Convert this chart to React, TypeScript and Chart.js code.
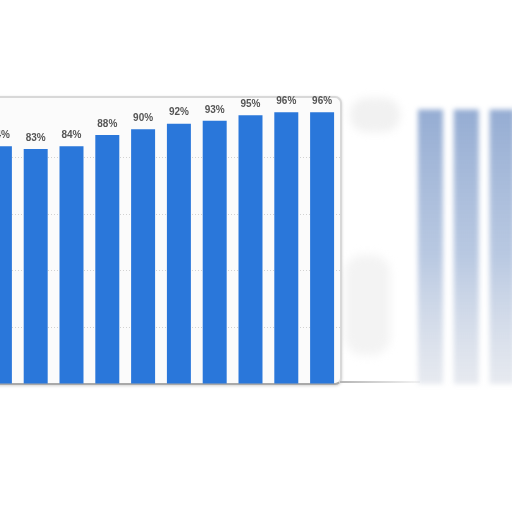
import React, { useEffect, useRef } from 'react';
import { Chart, registerables } from 'chart.js';

Chart.register(...registerables);

// main framed bars (first one is cut by the left edge)
const mainLabels = ['c1', 'c2', 'c3', 'c4', 'c5', 'c6', 'c7', 'c8', 'c9', 'c10'];
const mainValues = [84, 83, 84, 88, 90, 92, 93, 95, 96, 96];

// washed-out bars on the right, the first two slots are empty
const ghostLabels = ['c11', 'c12', 'c13', 'c14', 'c15'];
const ghostValues = [null, null, 97, 97, 97];

const yTicks = [0, 20, 40, 60, 80, 100];

const BAR_BLUE = '#2a77da';

const valueLabels = {
  id: 'valueLabels',
  afterDatasetsDraw(chart: Chart) {
    const { ctx } = chart;
    const meta = chart.getDatasetMeta(0);
    ctx.save();
    ctx.font = 'bold 10px "Liberation Sans", Arial, sans-serif';
    ctx.fillStyle = '#555555';
    ctx.textAlign = 'center';
    ctx.textBaseline = 'bottom';
    meta.data.forEach((bar: any, i: number) => {
      const v = mainValues[i];
      ctx.fillText(v + '%', bar.x, bar.y - 6);
    });
    ctx.restore();
  }
};

export default function App() {
  const mainRef = useRef<HTMLCanvasElement | null>(null);
  const ghostRef = useRef<HTMLCanvasElement | null>(null);

  useEffect(() => {
    if (!mainRef.current || !ghostRef.current) return;

    const main = new Chart(mainRef.current, {
      type: 'bar',
      data: {
        labels: mainLabels,
        datasets: [
          {
            data: mainValues,
            backgroundColor: BAR_BLUE,
            borderWidth: 0,
            barPercentage: 0.67,
            categoryPercentage: 1
          }
        ]
      },
      options: {
        responsive: false,
        animation: false,
        layout: { padding: { top: 21, bottom: 0, left: 0, right: 0 } },
        plugins: {
          legend: { display: false },
          tooltip: { enabled: false }
        },
        scales: {
          x: {
            display: false
          },
          y: {
            min: 0,
            max: 100,
            afterBuildTicks: (axis: any) => {
              axis.ticks = yTicks.map((v) => ({ value: v }));
            },
            ticks: { display: false },
            border: { display: false, dash: [1, 2] },
            grid: {
              drawTicks: false,
              color: (c: any) =>
                c.tick && c.tick.value > 0 && c.tick.value < 100 ? 'rgba(0,0,0,0.16)' : 'rgba(0,0,0,0)',
              lineWidth: 1
            }
          }
        }
      },
      plugins: [valueLabels]
    });

    const ghost = new Chart(ghostRef.current, {
      type: 'bar',
      data: {
        labels: ghostLabels,
        datasets: [
          {
            data: ghostValues,
            backgroundColor: (c: any) => {
              const area = c.chart.chartArea;
              if (!area) return 'rgba(80,120,185,0.5)';
              const g = c.chart.ctx.createLinearGradient(0, area.top, 0, area.bottom);
              g.addColorStop(0, 'rgba(75,115,180,0.6)');
              g.addColorStop(0.55, 'rgba(100,135,190,0.45)');
              g.addColorStop(1, 'rgba(175,185,205,0.3)');
              return g;
            },
            borderWidth: 0,
            barPercentage: 0.7,
            categoryPercentage: 1
          }
        ]
      },
      options: {
        responsive: false,
        animation: false,
        layout: { padding: { top: 21, bottom: 0, left: 0, right: 0 } },
        plugins: {
          legend: { display: false },
          tooltip: { enabled: false }
        },
        scales: {
          x: { display: false },
          y: { display: false, min: 0, max: 100 }
        }
      }
    });

    return () => {
      main.destroy();
      ghost.destroy();
    };
  }, []);

  return (
    <div
      style={{
        position: 'fixed',
        left: 0,
        top: 0,
        width: 512,
        height: 512,
        overflow: 'hidden',
        background: '#ffffff'
      }}
    >
      <div
        style={{
          position: 'absolute',
          left: 350,
          top: 98,
          width: 50,
          height: 34,
          borderRadius: 16,
          background: '#f1f1f1',
          filter: 'blur(4px)'
        }}
      />
      <div
        style={{
          position: 'absolute',
          left: 345,
          top: 255,
          width: 45,
          height: 100,
          borderRadius: 18,
          background: '#f3f3f3',
          filter: 'blur(5px)'
        }}
      />
      <div
        style={{
          position: 'absolute',
          left: -12,
          top: 96,
          width: 350,
          height: 285,
          border: '2px solid #d8d8d8',
          borderBottom: '2px solid #a9a9a9',
          borderRadius: 7,
          background: '#fbfbfb',
          boxShadow: '0 1px 3px rgba(0,0,0,0.18)'
        }}
      />
      <div
        style={{
          position: 'absolute',
          left: 340,
          top: 381,
          width: 80,
          height: 2,
          background: 'linear-gradient(to right, #b5b5b5, rgba(200,200,200,0.2))'
        }}
      />
      <canvas
        ref={mainRef}
        width={358}
        height={304}
        style={{ position: 'absolute', left: -18, top: 80, width: 358, height: 304 }}
      />
      <canvas
        ref={ghostRef}
        width={179}
        height={304}
        style={{
          position: 'absolute',
          left: 341,
          top: 80,
          width: 179,
          height: 304,
          filter: 'blur(2.5px)'
        }}
      />
    </div>
  );
}
